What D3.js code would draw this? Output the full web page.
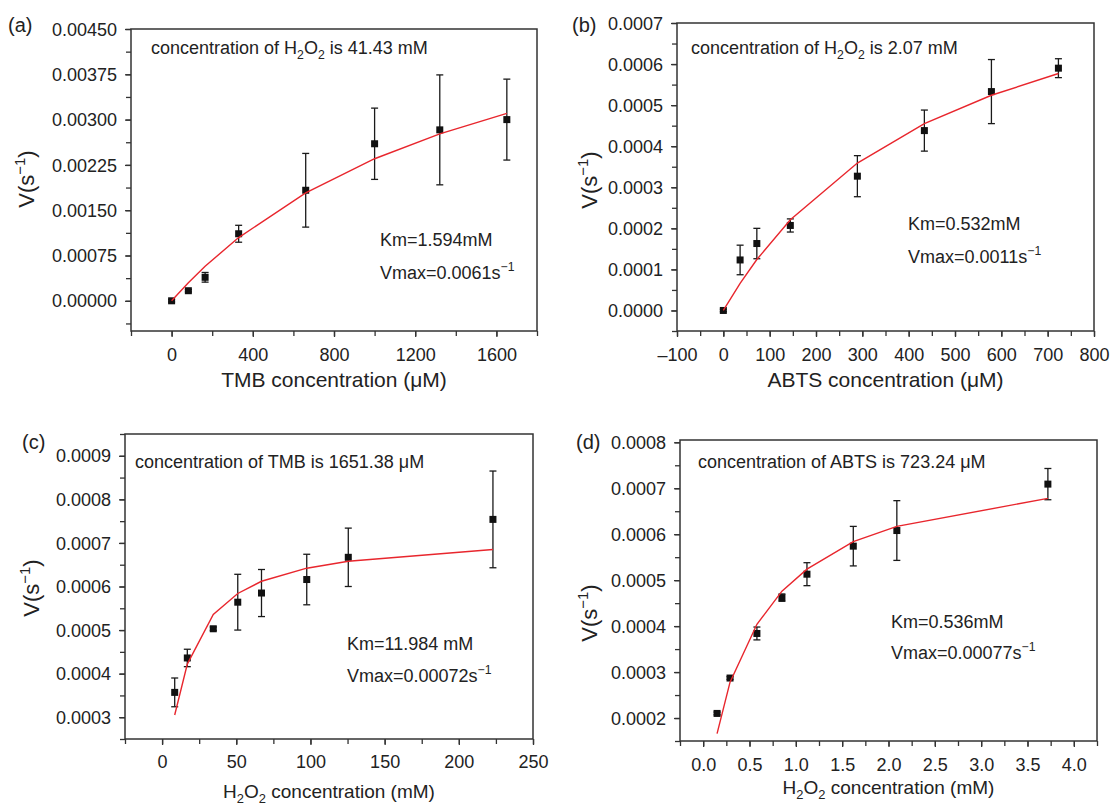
<!DOCTYPE html>
<html>
<head>
<meta charset="utf-8">
<script src="https://cdn.jsdelivr.net/npm/d3@7"></script>
<style>
  body { margin: 0; background: #fff; }
  svg { display: block; font-family: "Liberation Sans", Arial, sans-serif; }
</style>
</head>
<body>
<svg width="1112" height="805"></svg>
<script>
// (a) TMB varied, H2O2 fixed
const aConc = [0, 82.6, 165.1, 330.3, 660.6, 1000, 1321.1, 1651.4];
const aRate = [0, 0.000167, 0.000389, 0.00111, 0.00183, 0.0026, 0.00283, 0.003];
const aErr  = [0.00002, 0.00002, 0.00008, 0.00014, 0.00061, 0.00059, 0.00091, 0.00067];
const aFit  = [0, 0.000300, 0.000572, 0.001047, 0.001787, 0.002352, 0.002764, 0.003104];
const aXTicks = [0, 400, 800, 1200, 1600];
const aYTicks = [0, 0.00075, 0.0015, 0.00225, 0.003, 0.00375, 0.0045];

// (b) ABTS varied, H2O2 fixed
const bConc = [0, 36.2, 72.3, 144.6, 289.3, 433.9, 578.6, 723.2];
const bRate = [0, 0.000123, 0.000163, 0.000207, 0.000327, 0.000438, 0.000533, 0.00059];
const bErr  = [0.000003, 0.000036, 0.000037, 0.000016, 0.00005, 0.00005, 0.000078, 0.000023];
const bFit  = [0, 0.000066, 0.000124, 0.000221, 0.000359, 0.000455, 0.000524, 0.000577];
const bXTicks = [-100, 0, 100, 200, 300, 400, 500, 600, 700, 800];
const bYTicks = [0, 0.0001, 0.0002, 0.0003, 0.0004, 0.0005, 0.0006, 0.0007];

// (c) H2O2 varied, TMB fixed
const cConc = [8.5, 17, 34.5, 51, 67, 97.5, 125.5, 223];
const cRate = [0.000357, 0.000436, 0.000503, 0.000564, 0.000585, 0.000616, 0.000667, 0.000754];
const cErr  = [0.000033, 0.00002, 0.000004, 0.000064, 0.000054, 0.000058, 0.000067, 0.000111];
const cFit  = [0.000305, 0.000422, 0.000536, 0.000584, 0.000612, 0.000642, 0.000658, 0.000685];
const cXTicks = [0, 50, 100, 150, 200, 250];
const cYTicks = [0.0003, 0.0004, 0.0005, 0.0006, 0.0007, 0.0008, 0.0009];

// (d) H2O2 varied, ABTS fixed
const dConc = [0.15, 0.29, 0.58, 0.85, 1.12, 1.62, 2.09, 3.72];
const dRate = [0.00021, 0.000287, 0.000384, 0.000462, 0.000513, 0.000574, 0.000608, 0.000709];
const dErr  = [0.000003, 0.000003, 0.000014, 0.000008, 0.000025, 0.000043, 0.000065, 0.000034];
const dFit  = [0.000166, 0.000278, 0.000404, 0.000476, 0.000524, 0.000584, 0.000617, 0.000678];
const dXTicks = [0, 0.5, 1, 1.5, 2, 2.5, 3, 3.5, 4];
const dYTicks = [0.0002, 0.0003, 0.0004, 0.0005, 0.0006, 0.0007, 0.0008];

const svg = d3.select('svg');
const TXT = '#222';

// text with sub/superscript pieces: [text, 'sub' | 'sup' | null]
function rich(text, parts, size) {
  let shift = 0;
  parts.forEach(([t, k]) => {
    const target = k === 'sub' ? size * 0.28 : k === 'sup' ? -size * 0.42 : 0;
    const ts = text.append('tspan').text(t).attr('dy', target - shift);
    if (k) ts.attr('font-size', size * 0.68);
    shift = target;
  });
}

const panels = [
  { tag: '(a)', conc: aConc, rate: aRate, err: aErr, fit: aFit,
    box: [131, 29, 537, 331], xDom: [-200, 1800], yDom: [-0.0005, 0.0045],
    xTicks: aXTicks, yTicks: aYTicks, xMinor: 200, yMinor: 0.000375, yFmt: 5, xFmt: 0,
    tagPos: [8, 25], ytPos: [27, 179], xtY: 380, xtSize: 21, tickY: 355,
    xTitle: [['TMB concentration (\u03bcM)', null]],
    note: [['concentration of H', null], ['2', 'sub'], ['O', null], ['2', 'sub'], [' is 41.43 mM', null]],
    notePos: [151, 48],
    km: 'Km=1.594mM', vmax: 'Vmax=0.0061s', kmPos: [380, 240, 273] },
  { tag: '(b)', conc: bConc, rate: bRate, err: bErr, fit: bFit,
    box: [677, 23, 1094, 331], xDom: [-100, 800], yDom: [-0.00005, 0.0007],
    xTicks: bXTicks, yTicks: bYTicks, xMinor: 50, yMinor: 0.00005, yFmt: 4, xFmt: 0,
    tagPos: [572, 25], ytPos: [590, 180], xtY: 380, xtSize: 21, tickY: 355,
    xTitle: [['ABTS concentration (\u03bcM)', null]],
    note: [['concentration of H', null], ['2', 'sub'], ['O', null], ['2', 'sub'], [' is 2.07 mM', null]],
    notePos: [691, 48],
    km: 'Km=0.532mM', vmax: 'Vmax=0.0011s', kmPos: [908, 224, 257] },
  { tag: '(c)', conc: cConc, rate: cRate, err: cErr, fit: cFit,
    box: [125, 434, 533, 739], xDom: [-25, 250], yDom: [0.00025, 0.00095],
    xTicks: cXTicks, yTicks: cYTicks, xMinor: 25, yMinor: 0.00005, yFmt: 4, xFmt: 0,
    tagPos: [22, 442], ytPos: [32, 588], xtY: 791, xtSize: 19, tickY: 762,
    xTitle: [['H', null], ['2', 'sub'], ['O', null], ['2', 'sub'], [' concentration (mM)', null]],
    note: [['concentration of TMB is 1651.38 \u03bcM', null]],
    notePos: [135, 462],
    km: 'Km=11.984 mM', vmax: 'Vmax=0.00072s', kmPos: [347, 644, 676] },
  { tag: '(d)', conc: dConc, rate: dRate, err: dErr, fit: dFit,
    box: [680, 440, 1097, 741], xDom: [-0.25, 4.25], yDom: [0.00015, 0.000805],
    xTicks: dXTicks, yTicks: dYTicks, xMinor: 0.25, yMinor: 0.00005, yFmt: 4, xFmt: 1,
    tagPos: [576, 442], ytPos: [590, 613], xtY: 787, xtSize: 19, tickY: 765,
    xTitle: [['H', null], ['2', 'sub'], ['O', null], ['2', 'sub'], [' concentration (mM)', null]],
    note: [['concentration of ABTS is 723.24 \u03bcM', null]],
    notePos: [698, 462],
    km: 'Km=0.536mM', vmax: 'Vmax=0.00077s', kmPos: [891, 622, 653] }
];

panels.forEach(p => {
  const [x0, y0, x1, y1] = p.box;
  const g = svg.append('g');
  const x = d3.scaleLinear().domain(p.xDom).range([x0, x1]);
  const y = d3.scaleLinear().domain(p.yDom).range([y1, y0]);

  const minorX = d3.range(p.xDom[0], p.xDom[1] + p.xMinor / 2, p.xMinor);
  const minorY = d3.range(Math.ceil(p.yDom[0] / p.yMinor - 1e-6) * p.yMinor, p.yDom[1] + 1e-9, p.yMinor);

  // minor ticks
  g.append('g').attr('transform', `translate(0,${y1})`)
      .call(d3.axisBottom(x).tickValues(minorX).tickSize(5).tickFormat(''));
  g.append('g').attr('transform', `translate(${x0},0)`)
      .call(d3.axisLeft(y).tickValues(minorY).tickSize(5).tickFormat(''));

  // major ticks + labels
  const xAxis = g.append('g').attr('transform', `translate(0,${y1})`)
      .call(d3.axisBottom(x).tickValues(p.xTicks).tickSize(6).tickPadding(8)
        .tickFormat(d => d < 0 ? '\u2013' + Math.abs(d).toFixed(p.xFmt) : d.toFixed(p.xFmt)));
  const yAxis = g.append('g').attr('transform', `translate(${x0},0)`)
      .call(d3.axisLeft(y).tickValues(p.yTicks).tickSize(6).tickPadding(8)
        .tickFormat(d => d.toFixed(p.yFmt)));

  g.selectAll('.domain').remove();
  g.selectAll('.tick line').attr('stroke', '#333').attr('stroke-width', 1.3);
  g.selectAll('.tick text').attr('fill', TXT).attr('font-size', 18)
      .attr('font-family', '"Liberation Sans", Arial, sans-serif');
  xAxis.selectAll('.tick text').attr('dy', null).attr('y', p.tickY - y1 + 6);
  yAxis.selectAll('.tick text').attr('dy', '0.34em');

  // frame
  g.append('rect').attr('x', x0).attr('y', y0)
      .attr('width', x1 - x0).attr('height', y1 - y0)
      .attr('fill', 'none').attr('stroke', '#333').attr('stroke-width', 1.5);

  const pts = p.conc.map((c, i) => ({ c, v: p.rate[i], e: p.err[i], f: p.fit[i] }));

  // error bars
  const eb = g.append('g').attr('stroke', '#1a1a1a').attr('stroke-width', 1.3);
  eb.selectAll('line.v').data(pts).join('line').attr('class', 'v')
      .attr('x1', d => x(d.c)).attr('x2', d => x(d.c))
      .attr('y1', d => y(d.v - d.e)).attr('y2', d => y(d.v + d.e));
  eb.selectAll('line.t').data(pts).join('line').attr('class', 't')
      .attr('x1', d => x(d.c) - 3.5).attr('x2', d => x(d.c) + 3.5)
      .attr('y1', d => y(d.v + d.e)).attr('y2', d => y(d.v + d.e));
  eb.selectAll('line.b').data(pts).join('line').attr('class', 'b')
      .attr('x1', d => x(d.c) - 3.5).attr('x2', d => x(d.c) + 3.5)
      .attr('y1', d => y(d.v - d.e)).attr('y2', d => y(d.v - d.e));

  // data squares
  g.selectAll('rect.pt').data(pts).join('rect').attr('class', 'pt')
      .attr('x', d => x(d.c) - 3.5).attr('y', d => y(d.v) - 3.5)
      .attr('width', 7).attr('height', 7).attr('fill', '#111');

  // fitted Michaelis-Menten curve
  g.append('path').datum(pts)
      .attr('fill', 'none').attr('stroke', '#e8262d').attr('stroke-width', 1.4)
      .attr('d', d3.line().x(d => x(d.c)).y(d => y(d.f)));

  // panel tag
  g.append('text').attr('x', p.tagPos[0]).attr('y', p.tagPos[1] + 7)
      .attr('font-size', 20).attr('fill', TXT).text(p.tag);

  // y title
  const yt = g.append('text')
      .attr('transform', `translate(${p.ytPos[0] + 7},${p.ytPos[1]}) rotate(-90)`)
      .attr('text-anchor', 'middle').attr('font-size', 22).attr('fill', TXT);
  rich(yt, [['V(s', null], ['\u22121', 'sup'], [')', null]], 22);

  // x title
  const xt = g.append('text')
      .attr('x', (x0 + x1) / 2).attr('y', p.xtY + p.xtSize * 0.35)
      .attr('text-anchor', 'middle').attr('font-size', p.xtSize).attr('fill', TXT);
  rich(xt, p.xTitle, p.xtSize);

  // condition note
  const nt = g.append('text').attr('x', p.notePos[0]).attr('y', p.notePos[1] + 6)
      .attr('font-size', 18).attr('fill', TXT);
  rich(nt, p.note, 18);

  // kinetic constants
  g.append('text').attr('x', p.kmPos[0]).attr('y', p.kmPos[1] + 6)
      .attr('font-size', 18).attr('fill', TXT).text(p.km);
  const vt = g.append('text').attr('x', p.kmPos[0]).attr('y', p.kmPos[2] + 6)
      .attr('font-size', 18).attr('fill', TXT);
  rich(vt, [[p.vmax, null], ['\u22121', 'sup']], 18);
});
</script>
</body>
</html>
